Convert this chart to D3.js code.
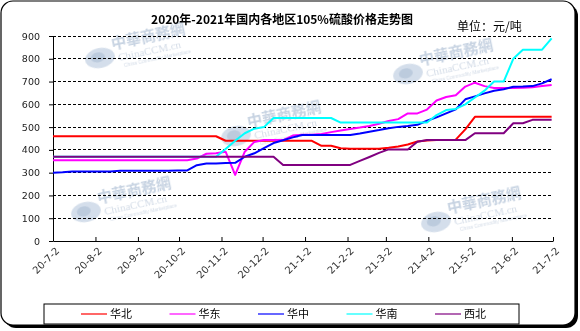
<!DOCTYPE html>
<html>
<head>
<meta charset="utf-8">
<script src="https://cdn.jsdelivr.net/npm/d3@7"></script>
<style>
  html, body { margin: 0; padding: 0; background: #fff; }
  svg { display: block; }
</style>
</head>
<body>
<svg id="chart" width="580" height="331"></svg>
<script>
// Weekly quotes, 105% sulfuric acid, yuan per tonne
const startDate = "2020-07-02";
const endDate = "2021-07-02";

const seriesNames = ["华北", "华东", "华中", "华南", "西北"];
const seriesColors = ["#ff0000", "#ff00ff", "#0000ff", "#00ffff", "#800080"];

const huabei = [460,460,460,460,460,460,460,460,460,460,460,460,460,460,460,460,460,460,
  440,440,440,440,440,440,440,440,440,440,
  418,418,407,405,405,405,405,409,415,424,437,441,443,443,445,490,
  545,545,545,545,545,545,545,545,545];
const huadong = [355,355,355,355,355,355,355,355,355,355,355,355,355,355,355,
  362,383,385,392,290,392,435,443,443,443,463,467,467,470,478,485,492,498,505,515,
  527,535,560,560,577,617,632,640,678,695,680,672,672,672,673,675,680,685];
const huazhong = [300,302,305,305,305,305,305,308,308,308,308,308,308,310,310,
  333,340,340,342,343,370,385,408,430,442,455,465,465,465,465,465,465,472,480,487,
  495,501,505,510,528,543,560,578,622,635,648,660,666,677,678,680,692,710];
const huanan = [370,370,370,370,370,370,370,370,370,370,370,370,370,370,370,370,370,370,
  404,440,473,493,500,540,540,540,540,540,540,540,520,
  520,520,520,520,520,520,520,520,520,
  553,575,580,600,630,660,700,700,800,840,840,840,890];
const xibei = [370,370,370,370,370,370,370,370,370,370,370,370,370,370,370,370,370,370,370,370,370,370,370,370,
  334,334,334,334,334,334,334,334,
  352,369,387,402,402,402,436,443,443,443,443,443,473,473,473,473,517,517,532,532,532];

const seriesValues = [huabei, huadong, huazhong, huanan, xibei];

const yTicks = [0, 100, 200, 300, 400, 500, 600, 700, 800, 900];
const xTickLabels = ["20-7-2","20-8-2","20-9-2","20-10-2","20-11-2","20-12-2",
  "21-1-2","21-2-2","21-3-2","21-4-2","21-5-2","21-6-2","21-7-2"];

const chartTitle = "2020年-2021年国内各地区105%硫酸价格走势图";
const unitLabel = "单位：元/吨";
const watermarkCn = "中華商務網";
const watermarkEn = "ChinaCCM.cn";
const watermarkSub = "China Commodity Marketplace";

// ---- setup ----
const svg = d3.select("#chart");
const plot = { left: 53, right: 553, top: 36, bottom: 241 };

const parseDay = d3.utcParse("%Y-%m-%d");
const weeks = d3.utcDay.range(parseDay(startDate), d3.utcDay.offset(parseDay(endDate), 1), 7);
const tickDates = xTickLabels.map(s => {
  const [yy, m, d] = s.split("-").map(Number);
  return new Date(Date.UTC(2000 + yy, m - 1, d));
});

const x = d3.scaleUtc()
  .domain([parseDay(startDate), parseDay(endDate)])
  .range([plot.left, plot.right]);
const y = d3.scaleLinear().domain([0, 900]).range([plot.bottom, plot.top]);

// frame with drop shadow
svg.append("rect").attr("x", 4).attr("y", 4).attr("width", 574).attr("height", 324)
  .attr("rx", 12).attr("fill", "#000");
svg.append("rect").attr("x", 1).attr("y", 1).attr("width", 574).attr("height", 324)
  .attr("rx", 12).attr("fill", "#fff").attr("stroke", "#000").attr("stroke-width", 1.2);

// faint site watermarks
const wmSpots = [[100, 58], [236, 136], [408, 74], [86, 212], [436, 222]];
const wm = svg.append("g").attr("opacity", 0.5);
wmSpots.forEach(([cx, cy]) => {
  const g = wm.append("g").attr("transform", `translate(${cx},${cy}) rotate(-12)`);
  g.append("ellipse").attr("rx", 15).attr("ry", 10).attr("fill", "#a9bdd6");
  g.append("ellipse").attr("cx", -2).attr("cy", -1).attr("rx", 7).attr("ry", 5).attr("fill", "#7896bb");
  g.append("text").attr("x", 14).attr("y", -6).text(watermarkCn)
    .attr("font-family", "Noto Sans CJK TC").attr("font-weight", "bold")
    .attr("font-size", 15).attr("fill", "#8ea6c4");
  g.append("text").attr("x", 18).attr("y", 7).text(watermarkEn)
    .attr("font-family", "Liberation Serif").attr("font-size", 11).attr("fill", "#a7b8cf");
  g.append("text").attr("x", 22).attr("y", 14).text(watermarkSub)
    .attr("font-family", "Liberation Sans").attr("font-size", 5).attr("fill", "#a7b8cf");
});

// dashed gridlines
svg.append("g").selectAll("line").data(yTicks.filter(d => d > 0)).join("line")
  .attr("x1", plot.left).attr("x2", plot.right)
  .attr("y1", d => y(d)).attr("y2", d => y(d))
  .attr("stroke", "#000").attr("stroke-width", 1).attr("stroke-dasharray", "3,2")
  .attr("shape-rendering", "crispEdges");

// y axis
const yAxis = svg.append("g").attr("transform", `translate(${plot.left},0)`)
  .call(d3.axisLeft(y).tickValues(yTicks).tickSize(4).tickPadding(9).tickSizeOuter(0));
yAxis.select(".domain").attr("stroke", "#000");
yAxis.selectAll(".tick line").attr("stroke", "#000");
yAxis.selectAll("text").attr("font-family", "DejaVu Sans").attr("font-size", 9.5).attr("fill", "#222");

// x axis
const xAxis = svg.append("g").attr("transform", `translate(0,${plot.bottom})`)
  .call(d3.axisBottom(x).tickValues(tickDates).tickSize(-4).tickSizeOuter(0)
    .tickFormat((d, i) => xTickLabels[i]));
xAxis.select(".domain").attr("stroke", "#000");
xAxis.selectAll(".tick line").attr("stroke", "#000");
xAxis.selectAll("text")
  .attr("font-family", "DejaVu Sans").attr("font-size", 10).attr("fill", "#333")
  .attr("text-anchor", "end")
  .attr("transform", "translate(4,8) rotate(-45)")
  .attr("dx", 0).attr("dy", "0.35em").attr("y", 0);

// series lines
const line = d3.line().x((d, i) => x(weeks[i])).y(d => y(d));
svg.append("g").selectAll("path").data(seriesValues).join("path")
  .attr("d", line)
  .attr("fill", "none")
  .attr("stroke", (d, i) => seriesColors[i])
  .attr("stroke-width", 2)
  .attr("stroke-linejoin", "round");

// title & unit
svg.append("text").attr("x", 282).attr("y", 24).attr("text-anchor", "middle")
  .attr("font-family", "Noto Sans CJK SC").attr("font-weight", "bold").attr("font-size", 12)
  .attr("fill", "#000").text(chartTitle);
svg.append("text").attr("x", 457).attr("y", 31)
  .attr("font-family", "Noto Sans CJK SC").attr("font-size", 12)
  .attr("fill", "#000").text(unitLabel);

// legend
svg.append("rect").attr("x", 44).attr("y", 304).attr("width", 475).attr("height", 20)
  .attr("fill", "#fff").attr("stroke", "#000").attr("stroke-width", 1);
const leg = svg.append("g").selectAll("g").data(seriesNames).join("g")
  .attr("transform", (d, i) => `translate(${81 + i * 88.5},314)`);
leg.append("line").attr("x1", 0).attr("x2", 26).attr("y1", 0).attr("y2", 0)
  .attr("stroke", (d, i) => seriesColors[i]).attr("stroke-width", 1.2);
leg.append("text").attr("x", 29).attr("y", 4).text(d => d)
  .attr("font-family", "Noto Sans CJK SC").attr("font-size", 11).attr("fill", "#000");
</script>
</body>
</html>
